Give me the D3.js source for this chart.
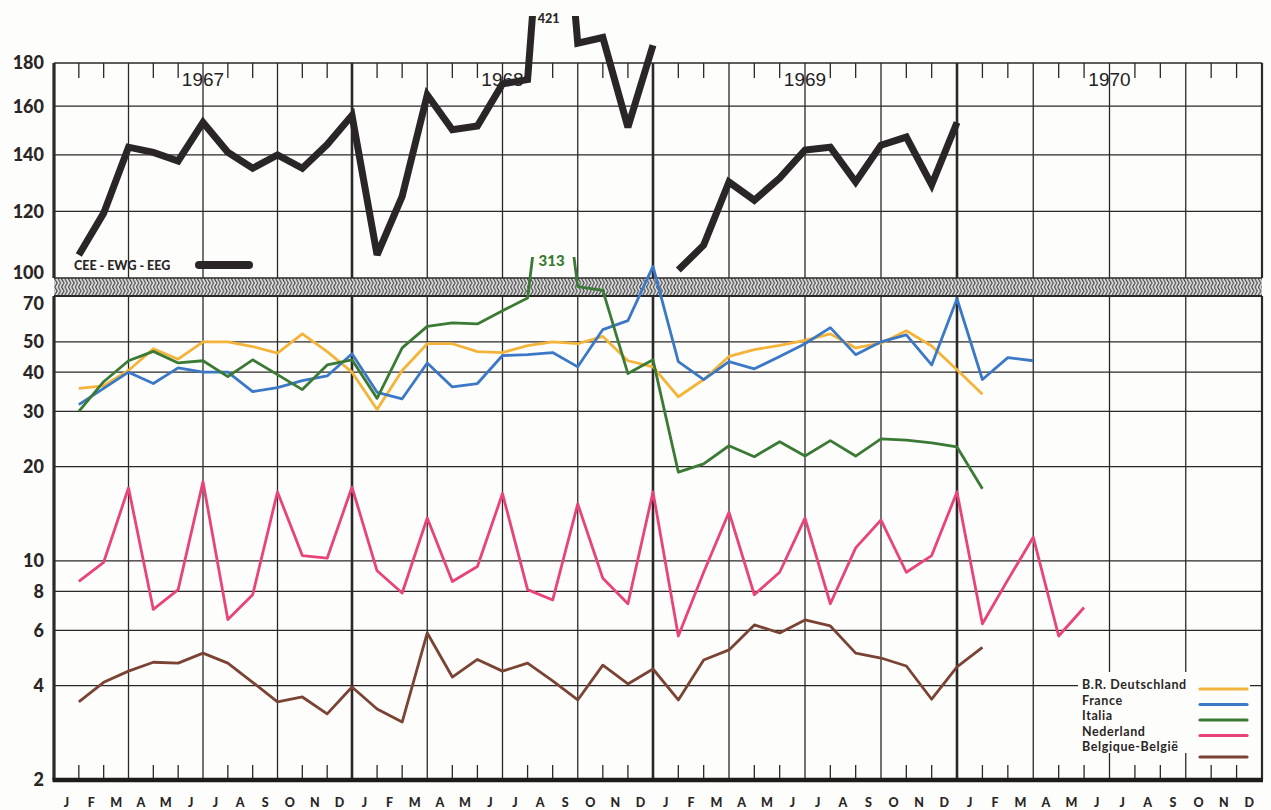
<!DOCTYPE html>
<html><head><meta charset="utf-8">
<script src="https://cdn.jsdelivr.net/npm/d3@7"></script>
<style>
html,body{margin:0;padding:0;background:#fdfdfb;}
svg{display:block;}
</style></head><body>
<svg id="chart" width="1271" height="810"></svg>
<script>
// ---------- data ----------
const monthLabels = ["J","F","M","A","M","J","J","A","S","O","N","D"];
const yearLabels = ["1967","1968","1969","1970"];
const topTicks = [180,160,140,120,100];
const bottomTicks = [70,50,40,30,20,10,8,6,4,2];

// CEE - EWG - EEG (upper panel), Jan 1967 .. Dec 1969; series broken between 1968 and 1969
const eec1967_68 = [106.5,119.4,143,141,137.7,153,141,135,140,135,144,156,
                    106.5,125,165,150,151.5,170,172,421,190,193,151,189];
const eec1969    = [102.2,109.4,130,123.7,131.4,141.9,143,130,143.8,147,129,153];

// lower panel series, first value = Jan 1967
const deutschland = [35.5,36.2,40.5,47.5,44,50,50,48.3,46,53,46.5,40,
                     30.4,40.5,49.3,49.3,46.5,46.2,48.6,50,49.3,52,43.5,41.6,
                     33.4,37.9,44.9,47.2,48.7,50.5,53,47.8,49.5,54.2,48.5,40.7,
                     34];
const france      = [31.5,35.5,40,36.8,41.3,40,40,34.7,35.7,37.6,38.9,45.8,
                     34.5,32.9,42.8,35.9,36.8,45.2,45.5,46.2,41.6,54.7,58.4,87,
                     43.2,37.9,43.2,41,44.9,49.3,55.5,45.5,50,52.6,42.2,68.6,
                     37.9,44.5,43.5];
const italia      = [30,37.3,43.5,46.6,42.8,43.5,38.7,43.8,39.3,35.2,42.2,43.8,
                     33,47.8,56,57.5,57,62.8,69,313,75,73,39.6,43.8,
                     19.2,20.4,23.3,21.5,24,21.6,24.2,21.6,24.5,24.3,23.8,23.1,
                     17];
const nederland   = [8.6,9.9,17.1,7.0,8.1,17.9,6.5,7.8,16.6,10.4,10.2,17.2,
                     9.3,7.9,13.7,8.6,9.6,16.4,8.1,7.5,15.2,8.8,7.3,16.6,
                     5.76,9.2,14.3,7.8,9.2,13.7,7.3,11,13.5,9.2,10.4,16.6,
                     6.3,8.7,11.9,5.76,7.1];
const belgique    = [3.55,4.1,4.45,4.75,4.72,5.08,4.72,4.1,3.55,3.68,3.25,3.96,
                     3.37,3.06,5.89,4.26,4.85,4.45,4.72,4.14,3.6,4.65,4.05,4.52,
                     3.6,4.83,5.2,6.25,5.89,6.48,6.2,5.08,4.9,4.62,3.62,4.59,
                     5.3];

const seriesNames  = ["B.R. Deutschland","France","Italia","Nederland","Belgique-België"];
const seriesColors = ["#f4b43a","#3b78c6","#3a7a34","#e8437a","#7a4334"];
const seriesData   = [deutschland, france, italia, nederland, belgique];
const eecLabel = "CEE - EWG - EEG";
// off-scale values (month index from Jan 1967)
const offScale = [{month:19, text:"421"},{month:19, text:"313"}];

// ---------- layout ----------
const svg = d3.select("#chart");
const L = 54, R = 1262;
const x = d3.scaleLinear().domain([0,12,24,36,48]).range([L,352,653,957,R]);
const yTop = d3.scaleLog().domain([100,180]).range([278,63]);
const yBot = d3.scaleLog().domain([2,70]).range([780,296]);
const gridCol = "#2b2828";

const defs = svg.append("defs");
const pat = defs.append("pattern").attr("id","hatch").attr("patternUnits","userSpaceOnUse")
  .attr("width",3.4).attr("height",8).attr("y",279);
pat.append("rect").attr("width",3.4).attr("height",8).attr("fill","#dcdcdc");
pat.append("path").attr("d","M0.4,0 L2.8,4 L0.4,8").attr("fill","none").attr("stroke","#404040").attr("stroke-width",1.1);
defs.append("clipPath").attr("id","clipTop").append("rect").attr("x",0).attr("y",16).attr("width",1271).attr("height",280);
defs.append("clipPath").attr("id","clipBot").append("rect").attr("x",0).attr("y",257).attr("width",1271).attr("height",530);

const g = svg.append("g");

// horizontal grid
topTicks.slice(1,-1).forEach(v=>{
  g.append("line").attr("x1",L).attr("x2",R).attr("y1",yTop(v)).attr("y2",yTop(v))
   .attr("stroke",gridCol).attr("stroke-width",1.3);
});
g.append("line").attr("x1",L).attr("x2",R).attr("y1",yTop(180)).attr("y2",yTop(180)).attr("stroke",gridCol).attr("stroke-width",1.6);
bottomTicks.slice(1,-1).forEach(v=>{
  g.append("line").attr("x1",L).attr("x2",R).attr("y1",yBot(v)).attr("y2",yBot(v))
   .attr("stroke",gridCol).attr("stroke-width",1.3);
});

// vertical grid and month ticks
for(let k=0;k<=48;k++){
  const xx = x(k);
  if(k%3===0){
    const w = (k===0)?3.2:(k===48?2.2:(k%12===0?2.6:1.3));
    g.append("line").attr("x1",xx).attr("x2",xx).attr("y1",yTop(180)).attr("y2",yTop(100)).attr("stroke",gridCol).attr("stroke-width",w);
    g.append("line").attr("x1",xx).attr("x2",xx).attr("y1",yBot(70)).attr("y2",yBot(2)).attr("stroke",gridCol).attr("stroke-width",w);
  } else {
    g.append("line").attr("x1",xx).attr("x2",xx).attr("y1",yTop(180)).attr("y2",yTop(180)+15).attr("stroke",gridCol).attr("stroke-width",1.3);
    g.append("line").attr("x1",xx).attr("x2",xx).attr("y1",yBot(2)-15).attr("y2",yBot(2)).attr("stroke",gridCol).attr("stroke-width",1.3);
  }
}

// scale-break band
g.append("rect").attr("x",L).attr("y",yTop(100)).attr("width",R-L).attr("height",yBot(70)-yTop(100)).attr("fill","url(#hatch)");
g.append("line").attr("x1",L).attr("x2",R).attr("y1",yTop(100)).attr("y2",yTop(100)).attr("stroke",gridCol).attr("stroke-width",1.6);
g.append("line").attr("x1",L).attr("x2",R).attr("y1",yBot(70)).attr("y2",yBot(70)).attr("stroke",gridCol).attr("stroke-width",2.2);
g.append("line").attr("x1",L-1.5).attr("x2",R+1).attr("y1",yBot(2)).attr("y2",yBot(2)).attr("stroke","#1e1b1b").attr("stroke-width",4.5);

// year labels
yearLabels.forEach((t,i)=>{
  g.append("text").attr("x",x(i*12+6)).attr("y",86).attr("text-anchor","middle")
   .attr("font-family","Liberation Sans, Arial, sans-serif").attr("font-size",19).attr("fill","#222").text(t);
});

// y labels
const yLab = {"font-family":"Lato, sans-serif","font-weight":900,"font-size":18,"fill":"#2a2626"};
topTicks.forEach(v=>{
  const t = g.append("text").attr("x",44).attr("y",Math.min(yTop(v),273)).attr("dy","0.36em").attr("text-anchor","end").text(v);
  Object.entries(yLab).forEach(([k,val])=>t.attr(k,val));
});
bottomTicks.forEach(v=>{
  const t = g.append("text").attr("x",44).attr("y",Math.max(yBot(v),304)).attr("dy","0.36em").attr("text-anchor","end").text(v);
  Object.entries(yLab).forEach(([k,val])=>t.attr(k,val));
});

// month labels
for(let yr=0; yr<4; yr++){
  monthLabels.forEach((m,i)=>{
    g.append("text").attr("x",x(yr*12+i+0.5)).attr("y",807).attr("text-anchor","middle")
     .attr("font-family","Lato, sans-serif").attr("font-weight",900).attr("font-size",12.5)
     .attr("fill","#2a2626").text(m);
  });
}

// EEC label
g.append("text").attr("x",74).attr("y",270).attr("font-family","Lato, sans-serif").attr("font-weight",900)
 .attr("font-size",12.5).attr("fill","#2a2626").text(eecLabel);
g.append("line").attr("x1",199).attr("x2",249).attr("y1",265).attr("y2",265).attr("stroke","#2a2627").attr("stroke-width",8).attr("stroke-linecap","round");

// ---------- lines ----------
const lineTop = d3.line().x(d=>x(d.m+1)).y(d=>yTop(d.v));
const lineBot = d3.line().x(d=>x(d.m+1)).y(d=>yBot(d.v));

const seg1 = eec1967_68.map((v,i)=>({m:i,v}));
const seg2 = eec1969.map((v,i)=>({m:i+24,v}));
const topG = svg.append("g").attr("clip-path","url(#clipTop)");
[seg1,seg2].forEach(s=>{
  topG.append("path").attr("d",lineTop(s)).attr("fill","none").attr("stroke","#2a2627")
   .attr("stroke-width",7).attr("stroke-linejoin","miter").attr("stroke-miterlimit",3);
});

const botG = svg.append("g").attr("clip-path","url(#clipBot)");
seriesData.forEach((arr,si)=>{
  botG.append("path").attr("d",lineBot(arr.map((v,i)=>({m:i,v})))).attr("fill","none")
   .attr("stroke",seriesColors[si]).attr("stroke-width",2.8).attr("stroke-linejoin","round");
});

// off-scale value labels
svg.append("text").attr("x",x(offScale[0].month+1)-4).attr("y",23).attr("text-anchor","middle")
 .attr("font-family","Lato, sans-serif").attr("font-weight",900).attr("font-size",12.5).attr("fill","#2a2627").text(offScale[0].text);
svg.append("text").attr("x",x(offScale[1].month+1)-1).attr("y",266).attr("text-anchor","middle")
 .attr("font-family","Lato, sans-serif").attr("font-weight",900).attr("font-size",15).attr("fill",seriesColors[2]).text(offScale[1].text);

// ---------- legend ----------
const lg = svg.append("g");
lg.append("rect").attr("x",1078).attr("y",672).attr("width",172).attr("height",81).attr("fill","#fdfdfb");
seriesNames.forEach((n,i)=>{
  const yy = 689 + i*15.5;
  lg.append("text").attr("x",1082).attr("y",yy).attr("font-family","Lato, sans-serif").attr("font-weight",700)
    .attr("font-size",12.5).attr("letter-spacing",0.6).attr("fill","#2a2626").text(n);
  lg.append("line").attr("x1",1200).attr("x2",1247).attr("y1",yy+(i===4?6:0)).attr("y2",yy+(i===4?6:0))
    .attr("stroke",seriesColors[i]).attr("stroke-width",3.2).attr("stroke-linecap","round");
});
</script>
</body></html>
